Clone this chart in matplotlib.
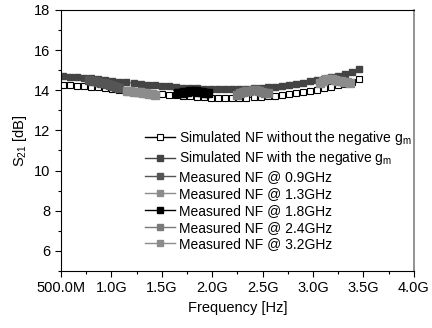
import numpy as np
import matplotlib.pyplot as plt
from matplotlib.ticker import MultipleLocator, FixedLocator

plt.rcParams['font.family'] = ['Liberation Sans', 'DejaVu Sans']
plt.rcParams['mathtext.fontset'] = 'custom'
plt.rcParams['mathtext.rm'] = 'Liberation Sans'
plt.rcParams['mathtext.it'] = 'Liberation Sans'

# frequency grid of the simulated curves (GHz)
freq_sim = [0.52, 0.59, 0.66, 0.73, 0.80, 0.87, 0.94, 1.01, 1.08, 1.15, 1.22,
            1.29, 1.36, 1.43, 1.50, 1.57, 1.64, 1.71, 1.78, 1.85, 1.92, 1.99,
            2.06, 2.13, 2.20, 2.27, 2.34, 2.41, 2.48, 2.55, 2.62, 2.69, 2.76,
            2.83, 2.90, 2.97, 3.04, 3.11, 3.18, 3.25, 3.32, 3.39, 3.46]
sim_without = [14.25, 14.24, 14.22, 14.20, 14.18, 14.15, 14.10, 14.06, 14.02,
               13.98, 13.94, 13.90, 13.86, 13.83, 13.80, 13.77, 13.74, 13.71,
               13.69, 13.67, 13.65, 13.63, 13.62, 13.61, 13.61, 13.62, 13.63,
               13.65, 13.67, 13.70, 13.73, 13.77, 13.81, 13.86, 13.91, 13.97,
               14.03, 14.10, 14.17, 14.25, 14.33, 14.42, 14.55]
sim_with = [14.70, 14.68, 14.66, 14.63, 14.60, 14.56, 14.52, 14.47, 14.43,
            14.39, 14.35, 14.31, 14.28, 14.25, 14.22, 14.19, 14.16, 14.13,
            14.11, 14.09, 14.07, 14.06, 14.05, 14.05, 14.05, 14.06, 14.07,
            14.09, 14.11, 14.14, 14.18, 14.22, 14.27, 14.32, 14.38, 14.44,
            14.50, 14.57, 14.64, 14.72, 14.81, 14.91, 15.03]

# measured bands
f_09 = [0.78, 0.81, 0.84, 0.87, 0.90, 0.93, 0.96, 0.99, 1.02, 1.05, 1.08]
s_09 = [14.50, 14.48, 14.45, 14.42, 14.38, 14.34, 14.30, 14.25, 14.20, 14.15, 14.10]
f_13 = [1.16, 1.19, 1.22, 1.25, 1.28, 1.31, 1.34, 1.37, 1.40, 1.43]
s_13 = [13.95, 13.95, 13.93, 13.92, 13.90, 13.88, 13.85, 13.83, 13.80, 13.78]
f_18 = [1.66, 1.69, 1.72, 1.75, 1.78, 1.81, 1.84, 1.87, 1.90, 1.93, 1.96]
s_18 = [13.85, 13.88, 13.91, 13.93, 13.94, 13.95, 13.94, 13.93, 13.91, 13.88, 13.85]
f_24 = [2.25, 2.28, 2.31, 2.34, 2.37, 2.40, 2.43, 2.46, 2.49, 2.52, 2.55]
s_24 = [13.78, 13.84, 13.90, 13.95, 13.98, 14.00, 13.99, 13.96, 13.92, 13.88, 13.84]
f_32 = [3.07, 3.10, 3.13, 3.16, 3.19, 3.22, 3.25, 3.28, 3.31, 3.34, 3.37]
s_32 = [14.35, 14.45, 14.55, 14.58, 14.55, 14.50, 14.47, 14.44, 14.42, 14.40, 14.37]

xticks = [0.5, 1.0, 1.5, 2.0, 2.5, 3.0, 3.5, 4.0]
xlabels = ['500.0M', '1.0G', '1.5G', '2.0G', '2.5G', '3.0G', '3.5G', '4.0G']

fig = plt.figure(figsize=(4.32, 3.28), dpi=100)
ax = fig.add_axes([0.141, 0.174, 0.817, 0.796])

ax.plot(freq_sim, sim_without, '-s', color='black', lw=0.8, ms=4.5,
        mfc='white', mec='black', mew=0.8,
        label='Simulated NF without the negative g$_\\mathrm{m}$')
ax.plot(freq_sim, sim_with, '-s', color='#444444', lw=0.8, ms=4.5,
        mfc='#444444', mec='#444444',
        label='Simulated NF with the negative g$_\\mathrm{m}$')
ax.plot(f_09, s_09, '-s', color='#555555', lw=4, ms=5.5, label='Measured NF @ 0.9GHz')
ax.plot(f_13, s_13, '-s', color='#8c8c8c', lw=4, ms=5.5, label='Measured NF @ 1.3GHz')
ax.plot(f_18, s_18, '-s', color='black', lw=4, ms=5.5, label='Measured NF @ 1.8GHz')
ax.plot(f_24, s_24, '-s', color='#7a7a7a', lw=4, ms=5.5, label='Measured NF @ 2.4GHz')
ax.plot(f_32, s_32, '-s', color='#8c8c8c', lw=4, ms=5.5, label='Measured NF @ 3.2GHz')

ax.set_xlim(0.5, 4.0)
ax.set_ylim(5, 18)
ax.set_xticks(xticks)
ax.set_xticklabels(xlabels)
ax.xaxis.set_minor_locator(MultipleLocator(0.25))
ax.yaxis.set_major_locator(FixedLocator([6, 8, 10, 12, 14, 16, 18]))
ax.yaxis.set_minor_locator(MultipleLocator(1))
ax.tick_params(which='both', direction='out', labelsize=10.5, width=0.8)
ax.tick_params(which='major', length=4)
ax.tick_params(which='minor', length=2)
ax.spines['right'].set_color('#808080')
ax.spines['right'].set_linewidth(1.2)

ax.set_xlabel('Frequency [Hz]', fontsize=10.5)
ax.set_ylabel('S$_{21}$ [dB]', fontsize=10.5)

leg = ax.legend(loc='upper left', bbox_to_anchor=(0.238, 0.545), frameon=False,
                fontsize=10, numpoints=1, handlelength=2.15, handletextpad=0.3,
                labelspacing=0.2, borderaxespad=0, borderpad=0)
for h in leg.get_lines():
    h.set_linewidth(1.0)
    h.set_markersize(4.5)

fig.savefig('out.png', dpi=100)
